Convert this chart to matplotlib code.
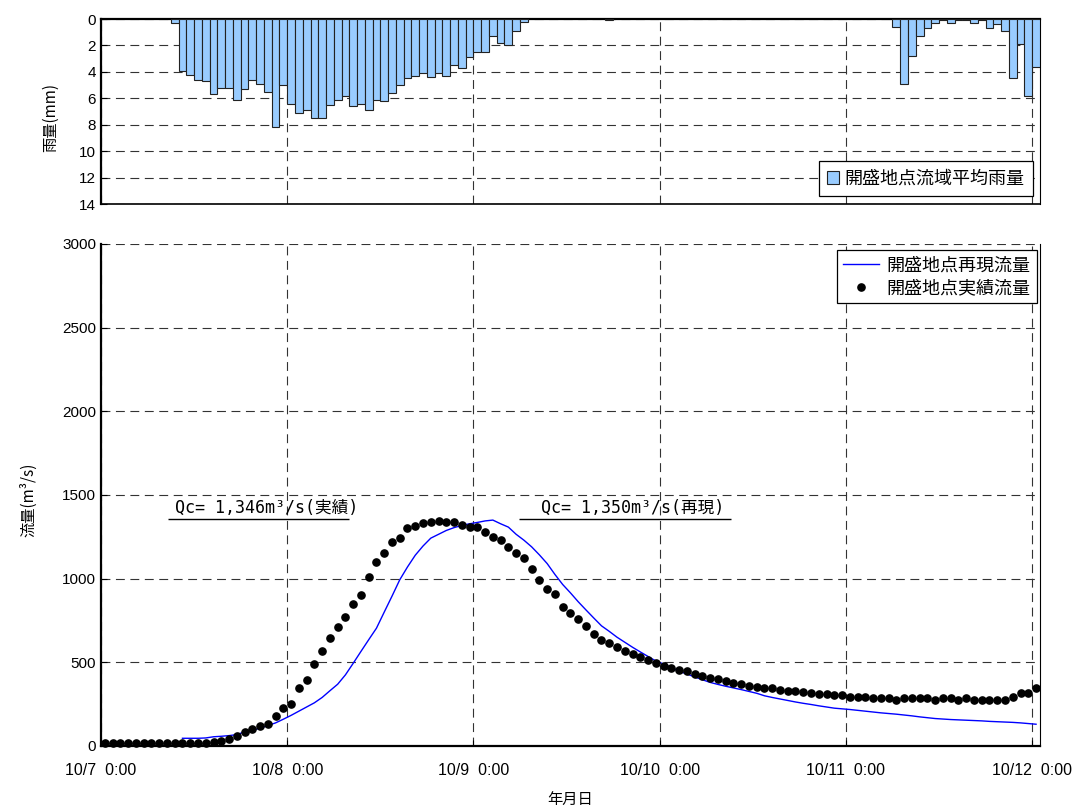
import numpy as np
import matplotlib
matplotlib.use("Agg")
import matplotlib.pyplot as plt

plt.rcParams['font.family'] = ['Liberation Sans', 'Noto Sans CJK JP', 'DejaVu Sans']

# 開盛地点 時間雨量 (mm) 10/7 0:00 から1時間毎、1行=1日
rain_mm = [
    0, 0, 0, 0, 0, 0, 0, 0, 0, 0.3, 3.9, 4.2, 4.6, 4.7, 5.7, 5.2, 5.2, 6.1, 5.3, 4.6, 4.9, 5.5, 8.2, 5.0,
    6.4, 7.1, 6.9, 7.5, 7.5, 6.5, 6.1, 5.8, 6.6, 6.4, 6.9, 6.1, 6.2, 5.6, 5.0, 4.5, 4.3, 4.1, 4.4, 4.1, 4.3, 3.5, 3.7, 2.9,
    2.5, 2.5, 1.3, 1.8, 2.0, 0.9, 0.2, 0, 0, 0, 0, 0, 0, 0, 0, 0, 0, 0.1, 0, 0, 0, 0, 0, 0,
    0, 0, 0, 0, 0, 0, 0, 0, 0, 0, 0, 0, 0, 0, 0, 0, 0, 0, 0, 0, 0, 0, 0, 0,
    0, 0, 0, 0, 0, 0, 0.6, 4.9, 2.8, 1.3, 0.7, 0.3, 0.1, 0.3, 0.1, 0.1, 0.3, 0.1, 0.7, 0.4, 0.9, 4.5, 1.9, 5.8,
    3.6,
]

# 実績流量 (m3/s) 10/7 0:00 から1時間毎
obs_flow = [
    15, 15, 15, 15, 15, 15, 15, 15, 15, 15, 15, 15, 15, 15, 24, 32, 40, 58, 82, 100, 118, 134, 177, 227,
    251, 345, 397, 489, 566, 643, 710, 770, 846, 905, 1009, 1100, 1152, 1218, 1244, 1304, 1316, 1332, 1338, 1346, 1340, 1340, 1322, 1306,
    1306, 1280, 1246, 1228, 1192, 1152, 1124, 1058, 993, 941, 906, 829, 794, 761, 718, 670, 634, 618, 590, 566, 548, 530, 514, 498,
    478, 464, 454, 448, 428, 420, 405, 399, 387, 379, 371, 361, 353, 345, 345, 337, 327, 331, 321, 319, 313, 311, 303, 303,
    295, 295, 295, 285, 285, 285, 275, 285, 285, 285, 285, 275, 285, 285, 275, 285, 275, 275, 275, 275, 275, 295, 319, 319,
    345,
]

# 再現流量 (m3/s) 10/7 10:00 から1時間毎
sim_start = 10
sim_flow = [
    46, 46, 46, 48, 55, 58, 62, 68, 84, 95, 106, 122, 138, 160,
    183, 208, 233, 258, 290, 330, 369, 425, 494, 565, 635, 704, 800, 895, 993, 1070, 1140, 1195, 1242, 1265, 1288, 1305, 1318, 1328,
    1336, 1345, 1350, 1328, 1308, 1265, 1230, 1190, 1142, 1090, 1025, 965, 915, 862, 813, 765, 718, 685, 650, 620, 590, 562, 535, 508,
    490, 468, 447, 430, 413, 396, 380, 368, 357, 347, 337, 326, 315, 300, 290, 281, 272, 263, 255, 248, 240, 233, 226, 222,
    218, 213, 208, 203, 198, 194, 190, 185, 180, 174, 169, 164, 161, 158, 156, 154, 152, 150, 147, 145, 143, 141, 138, 134,
    130,
]

day_labels = ["10/7  0:00", "10/8  0:00", "10/9  0:00", "10/10  0:00", "10/11  0:00", "10/12  0:00"]

hours = np.arange(len(obs_flow))
n_hours = len(hours)
sim_hours = np.arange(sim_start, sim_start + len(sim_flow))
rain = np.array(rain_mm)
wet = rain > 0

grid_kw = dict(color='#333333', linewidth=0.8, linestyle=(0, (8, 5)))
cjk = ['Noto Sans CJK JP', 'DejaVu Sans']

fig = plt.figure(figsize=(10.87, 8.09), dpi=100)
ax_r = fig.add_axes([0.0929, 0.7478, 0.8638, 0.2287])
ax_q = fig.add_axes([0.0929, 0.0779, 0.8638, 0.6205])

# 上段: 流域平均雨量 (逆目盛の棒グラフ)
ax_r.bar(hours[wet], rain[wet], width=1.0, align='edge', color='#99ccff',
         edgecolor='#222222', linewidth=0.8, label='開盛地点流域平均雨量', zorder=3)
ax_r.set_xlim(0, n_hours)
ax_r.set_ylim(14, 0)
ax_r.set_yticks(range(0, 15, 2))
ax_r.set_xticks(range(0, n_hours, 24))
ax_r.tick_params(axis='x', labelbottom=False, length=0)
ax_r.tick_params(axis='y', direction='in', length=4, labelsize=11)
ax_r.grid(True, **grid_kw)
ax_r.set_axisbelow(True)
ax_r.set_ylabel('雨量(mm)', fontsize=11, family=cjk)
ax_r.yaxis.set_label_coords(-0.045, 0.47)
for side, lw in [('left', 1.6), ('top', 1.6), ('bottom', 1.2), ('right', 0.8)]:
    ax_r.spines[side].set_linewidth(lw)
ax_r.legend(loc='lower right', bbox_to_anchor=(0.9925, 0.045), borderaxespad=0,
            fancybox=False, edgecolor='black', framealpha=1, handlelength=0.7,
            handleheight=0.7, handletextpad=0.3, borderpad=0.45,
            prop={'family': cjk, 'size': 13}).get_frame().set_linewidth(0.9)

# 下段: 流量ハイドログラフ
ax_q.plot(sim_hours + 0.5, sim_flow, color='#0000ff', linewidth=1.0,
          label='開盛地点再現流量', zorder=3)
ax_q.plot(hours + 0.5, obs_flow, linestyle='none', marker='o', markersize=5.2,
          color='black', label='開盛地点実績流量', zorder=4, clip_on=False)
ax_q.set_xlim(0, n_hours)
ax_q.set_ylim(0, 3000)
ax_q.set_yticks(range(0, 3001, 500))
ax_q.set_xticks(range(0, n_hours, 24))
ax_q.set_xticklabels(day_labels)
ax_q.tick_params(direction='in', length=4, labelsize=11)
ax_q.tick_params(axis='x', pad=12, labelsize=11.5)
ax_q.grid(True, **grid_kw)
ax_q.set_axisbelow(True)
ax_q.spines['top'].set_visible(False)
ax_q.spines['left'].set_linewidth(1.6)
ax_q.spines['bottom'].set_linewidth(1.6)
ax_q.spines['right'].set_linewidth(0.8)
ax_q.set_ylabel('流量(m³/s)', fontsize=11, family=cjk)
ax_q.yaxis.set_label_coords(-0.068, 0.49)
ax_q.set_xlabel('年月日', fontsize=11, family=cjk)
ax_q.xaxis.set_label_coords(0.5, -0.09)
ax_q.legend(loc='upper right', bbox_to_anchor=(0.9968, 0.988), borderaxespad=0,
            fancybox=False, edgecolor='black', framealpha=1, handlelength=2.0,
            handletextpad=0.4, borderpad=0.35, labelspacing=0.25,
            prop={'family': cjk, 'size': 13}).get_frame().set_linewidth(0.9)

# ピーク流量の注記
mono = ['DejaVu Sans Mono', 'Noto Sans CJK JP']
notes = [
    (f'Qc= {max(obs_flow):,}m³/s(実績)', 8.6, 32.0),
    (f'Qc= {max(sim_flow):,}m³/s(再現)', 53.9, 81.2),
]
for text, x0, x1 in notes:
    ax_q.hlines(1356, x0, x1, color='black', linewidth=1.0, zorder=5)
    ax_q.text((x0 + x1) / 2 + 1.0, 1372, text, ha='center', va='bottom',
              fontsize=12, family=mono, zorder=5)

fig.savefig('out.png', dpi=100)
